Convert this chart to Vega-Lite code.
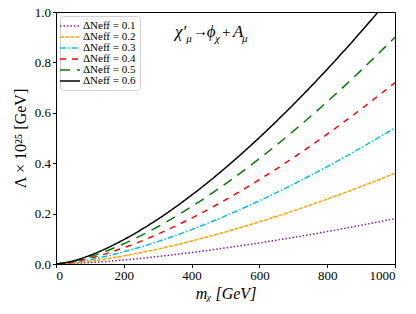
{
  "$schema": "https://vega.github.io/schema/vega-lite/v6.json",
  "width": 339,
  "height": 252,
  "autosize": "none",
  "padding": {"left": 56, "top": 12, "right": 21, "bottom": 50},
  "background": "white",
  "config": {
    "view": {"stroke": "black", "strokeWidth": 1},
    "font": "Liberation Serif",
    "axis": {"grid": false, "domainColor": "black", "tickColor": "black", "labelColor": "black", "titleColor": "black", "labelFont": "Liberation Serif", "titleFont": "Liberation Serif", "labelFontSize": 13, "titleFontSize": 16, "titleFontWeight": "normal", "tickSize": 3.5},
    "legend": {"orient": "top-left", "offset": 4, "fillColor": "white", "strokeColor": "#d0d0d0", "cornerRadius": 3, "padding": 4, "labelFont": "Liberation Serif", "labelFontSize": 11, "labelColor": "black", "symbolType": "M-2,0H2", "symbolSize": 100, "symbolStrokeWidth": 1.5, "rowPadding": -1.5, "labelOffset": 7}
  },
  "datasets": {
    "curves": [
      {"m": 0, "s": "0.1", "v": 0}, {"m": 50, "s": "0.1", "v": 0.002}, {"m": 100, "s": "0.1", "v": 0.0057}, {"m": 200, "s": "0.1", "v": 0.0161}, {"m": 300, "s": "0.1", "v": 0.0296}, {"m": 400, "s": "0.1", "v": 0.0455}, {"m": 500, "s": "0.1", "v": 0.0636}, {"m": 600, "s": "0.1", "v": 0.0837}, {"m": 700, "s": "0.1", "v": 0.1054}, {"m": 800, "s": "0.1", "v": 0.1288}, {"m": 900, "s": "0.1", "v": 0.1537}, {"m": 1000, "s": "0.1", "v": 0.18},
      {"m": 0, "s": "0.2", "v": 0}, {"m": 50, "s": "0.2", "v": 0.004}, {"m": 100, "s": "0.2", "v": 0.0114}, {"m": 200, "s": "0.2", "v": 0.0322}, {"m": 300, "s": "0.2", "v": 0.0591}, {"m": 400, "s": "0.2", "v": 0.0911}, {"m": 500, "s": "0.2", "v": 0.1273}, {"m": 600, "s": "0.2", "v": 0.1673}, {"m": 700, "s": "0.2", "v": 0.2108}, {"m": 800, "s": "0.2", "v": 0.2576}, {"m": 900, "s": "0.2", "v": 0.3074}, {"m": 1000, "s": "0.2", "v": 0.36},
      {"m": 0, "s": "0.3", "v": 0}, {"m": 50, "s": "0.3", "v": 0.006}, {"m": 100, "s": "0.3", "v": 0.0171}, {"m": 200, "s": "0.3", "v": 0.0483}, {"m": 300, "s": "0.3", "v": 0.0887}, {"m": 400, "s": "0.3", "v": 0.1366}, {"m": 500, "s": "0.3", "v": 0.1909}, {"m": 600, "s": "0.3", "v": 0.251}, {"m": 700, "s": "0.3", "v": 0.3163}, {"m": 800, "s": "0.3", "v": 0.3864}, {"m": 900, "s": "0.3", "v": 0.4611}, {"m": 1000, "s": "0.3", "v": 0.54},
      {"m": 0, "s": "0.4", "v": 0}, {"m": 50, "s": "0.4", "v": 0.008}, {"m": 100, "s": "0.4", "v": 0.0228}, {"m": 200, "s": "0.4", "v": 0.0644}, {"m": 300, "s": "0.4", "v": 0.1183}, {"m": 400, "s": "0.4", "v": 0.1822}, {"m": 500, "s": "0.4", "v": 0.2546}, {"m": 600, "s": "0.4", "v": 0.3346}, {"m": 700, "s": "0.4", "v": 0.4217}, {"m": 800, "s": "0.4", "v": 0.5152}, {"m": 900, "s": "0.4", "v": 0.6147}, {"m": 1000, "s": "0.4", "v": 0.72},
      {"m": 0, "s": "0.5", "v": 0}, {"m": 50, "s": "0.5", "v": 0.0101}, {"m": 100, "s": "0.5", "v": 0.0285}, {"m": 200, "s": "0.5", "v": 0.0805}, {"m": 300, "s": "0.5", "v": 0.1479}, {"m": 400, "s": "0.5", "v": 0.2277}, {"m": 500, "s": "0.5", "v": 0.3182}, {"m": 600, "s": "0.5", "v": 0.4183}, {"m": 700, "s": "0.5", "v": 0.5271}, {"m": 800, "s": "0.5", "v": 0.644}, {"m": 900, "s": "0.5", "v": 0.7684}, {"m": 1000, "s": "0.5", "v": 0.9},
      {"m": 0, "s": "0.6", "v": 0}, {"m": 50, "s": "0.6", "v": 0.0121}, {"m": 100, "s": "0.6", "v": 0.0342}, {"m": 200, "s": "0.6", "v": 0.0966}, {"m": 300, "s": "0.6", "v": 0.1774}, {"m": 400, "s": "0.6", "v": 0.2732}, {"m": 500, "s": "0.6", "v": 0.3818}, {"m": 600, "s": "0.6", "v": 0.502}, {"m": 700, "s": "0.6", "v": 0.6325}, {"m": 800, "s": "0.6", "v": 0.7727}, {"m": 900, "s": "0.6", "v": 0.9221}, {"m": 950, "s": "0.6", "v": 1.0}, {"m": 1000, "s": "0.6", "v": 1.08}
    ],
    "label": [
      {"m": 351, "v": 0.921, "t": "χ′", "role": "main"},
      {"m": 384, "v": 0.893, "t": "μ", "role": "sub"},
      {"m": 404, "v": 0.925, "t": "→", "role": "op"},
      {"m": 445, "v": 0.921, "t": "ϕ", "role": "main"},
      {"m": 469, "v": 0.893, "t": "χ", "role": "sub"},
      {"m": 490, "v": 0.921, "t": "+", "role": "op"},
      {"m": 522, "v": 0.921, "t": "A", "role": "main"},
      {"m": 549, "v": 0.893, "t": "μ", "role": "sub"}
    ]
  },
  "layer": [
    {
      "data": {"name": "curves"},
      "mark": {"type": "line", "strokeWidth": 1.5, "clip": true, "interpolate": "monotone"},
      "encoding": {
        "x": {"field": "m", "type": "quantitative", "scale": {"domain": [0, 1000], "nice": false}, "axis": {"values": [0, 200, 400, 600, 800, 1000], "format": "d", "title": "mᵪ [GeV]", "titleFontStyle": "italic", "titlePadding": 3}},
        "y": {"field": "v", "type": "quantitative", "scale": {"domain": [0, 1], "nice": false}, "axis": {"values": [0, 0.2, 0.4, 0.6, 0.8, 1.0], "format": ".1f", "title": "Λ × 10²⁵ [GeV]", "titlePadding": 6}},
        "color": {"field": "s", "type": "nominal", "scale": {"domain": ["0.1", "0.2", "0.3", "0.4", "0.5", "0.6"], "range": ["#8b1a9a", "orange", "deepskyblue", "red", "green", "black"]}, "legend": {"title": null, "labelExpr": "'ΔNeff = ' + datum.label"}},
        "strokeDash": {"field": "s", "type": "nominal", "scale": {"domain": ["0.1", "0.2", "0.3", "0.4", "0.5", "0.6"], "range": [[1.5, 2], [4, 1.2], [6, 2, 1.5, 2], [6, 6], [10, 7], [1, 0]]}, "legend": {"title": null, "labelExpr": "'ΔNeff = ' + datum.label"}}
      }
    },
    {
      "data": {"name": "label"},
      "transform": [{"filter": "datum.role == 'main'"}],
      "mark": {"type": "text", "align": "left", "baseline": "middle", "fontSize": 17, "fontStyle": "italic", "font": "Liberation Serif"},
      "encoding": {"x": {"field": "m", "type": "quantitative"}, "y": {"field": "v", "type": "quantitative"}, "text": {"field": "t"}}
    },
    {
      "data": {"name": "label"},
      "transform": [{"filter": "datum.role == 'op'"}],
      "mark": {"type": "text", "align": "left", "baseline": "middle", "fontSize": 15, "font": "Liberation Serif"},
      "encoding": {"x": {"field": "m", "type": "quantitative"}, "y": {"field": "v", "type": "quantitative"}, "text": {"field": "t"}}
    },
    {
      "data": {"name": "label"},
      "transform": [{"filter": "datum.role == 'sub'"}],
      "mark": {"type": "text", "align": "left", "baseline": "middle", "fontSize": 11, "fontStyle": "italic", "font": "Liberation Serif"},
      "encoding": {"x": {"field": "m", "type": "quantitative"}, "y": {"field": "v", "type": "quantitative"}, "text": {"field": "t"}}
    }
  ]
}
